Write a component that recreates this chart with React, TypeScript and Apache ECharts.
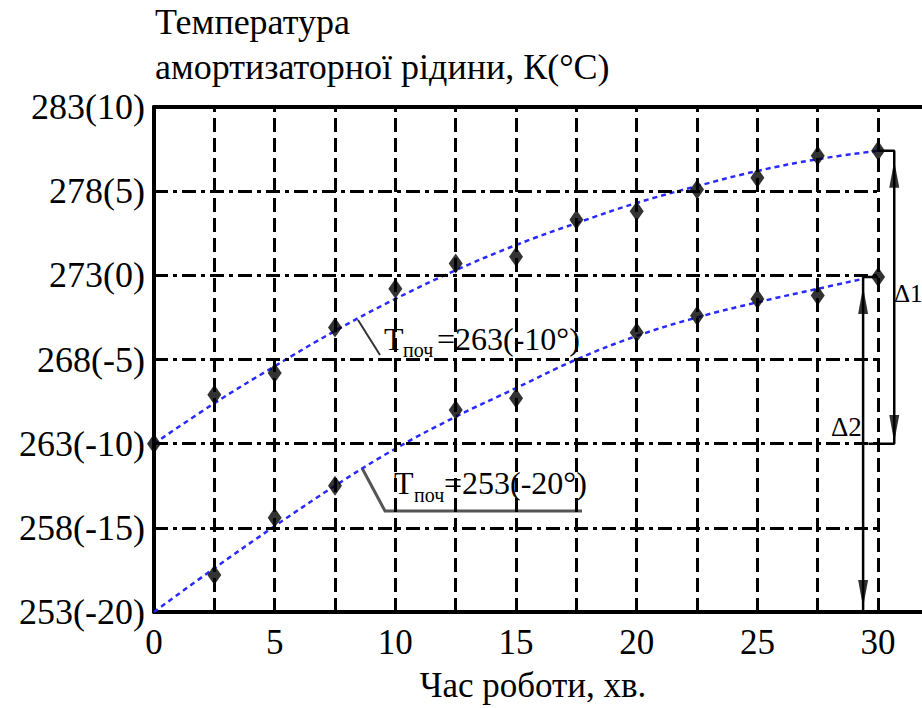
import React, { useEffect, useRef } from "react";
import * as echarts from "echarts";

// ---- data (Kelvin) ----
const xTicks = [0, 5, 10, 15, 20, 25, 30];
const yTicksK = [253, 258, 263, 268, 273, 278, 283];
const gridX = [2.5, 5, 7.5, 10, 12.5, 15, 17.5, 20, 22.5, 25, 27.5, 30];
const gridY = [258, 263, 268, 273, 278];

const upperPointsX = [0, 2.5, 5, 7.5, 10, 12.5, 15, 17.5, 20, 22.5, 25, 27.5, 30];
const upperPointsY = [263.0, 265.9, 267.2, 269.9, 272.2, 273.7, 274.1, 276.3, 276.8, 278.1, 278.8, 280.1, 280.4];
const lowerPointsX = [2.5, 5, 7.5, 12.5, 15, 20, 22.5, 25, 27.5, 30];
const lowerPointsY = [255.2, 258.6, 260.5, 265.0, 265.7, 269.6, 270.6, 271.6, 271.8, 272.9];

const upperCurveX = [0, 2.5, 5, 7.5, 10, 12.5, 15, 17.5, 20, 22.5, 25, 27.5, 30];
const upperCurveY = [263.0, 265.4, 267.6, 269.7, 271.6, 273.3, 274.8, 276.1, 277.3, 278.3, 279.2, 279.9, 280.4];
const lowerCurveX = [0, 2.5, 5, 7.5, 10, 12.5, 15, 17.5, 20, 22.5, 25, 27.5, 29.4];
const lowerCurveY = [253.0, 255.6, 258.1, 260.5, 262.7, 264.6, 266.3, 268.0, 269.4, 270.5, 271.4, 272.2, 272.8];

const titleLines = ["Температура", "амортизаторної рідини, К(°С)"];
const xName = "Час роботи, хв.";

const X_MAX = 31.82;
const K0 = 273;
const FONT = "Liberation Serif";

const toC = (xs: number[], ys: number[]) => xs.map((x, i) => [x, +(ys[i] - K0).toFixed(2)]);

export default function App() {
  const ref = useRef<HTMLDivElement>(null);
  useEffect(() => {
    if (!ref.current) return;
    const chart = echarts.init(ref.current, null, { renderer: "svg" });
    const black = "#000";
    const blue = "#2a2aff";
    const txt = (text: string, x: number, y: number, size: number, extra: any = {}) => ({
      type: "text",
      x,
      y,
      style: { text, fontSize: size, fontFamily: FONT, fill: black, verticalAlign: "middle", ...extra },
    });

    const option: any = {
      animation: false,
      backgroundColor: "#fff",
      textStyle: { fontFamily: FONT },
      grid: { left: 154, right: 0, top: 107, bottom: 96 },
      xAxis: [
        {
          type: "value",
          min: 0,
          max: X_MAX,
          interval: 5,
          axisLine: { onZero: false, lineStyle: { color: black, width: 4 } },
          axisTick: { show: false },
          splitLine: { show: false },
          axisLabel: {
            showMaxLabel: false,
            formatter: (v: number) => (xTicks.includes(v) ? String(v) : ""),
            color: black,
            fontSize: 35,
            fontFamily: FONT,
            margin: 13,
          },
        },
        {
          type: "value",
          position: "top",
          min: 0,
          max: X_MAX,
          axisLine: { show: true, onZero: false, lineStyle: { color: black, width: 4 } },
          axisTick: { show: false },
          axisLabel: { show: false },
          splitLine: { show: false },
        },
      ],
      yAxis: {
        type: "value",
        min: yTicksK[0] - K0,
        max: yTicksK[yTicksK.length - 1] - K0,
        interval: 5,
        axisLine: { show: true, onZero: false, lineStyle: { color: black, width: 4 } },
        axisTick: { show: false },
        splitLine: { show: false },
        axisLabel: {
          formatter: (v: number) => `${v + K0}(${v})`,
          color: black,
          fontSize: 36,
          fontFamily: FONT,
          margin: 9,
        },
      },
      series: [
        {
          type: "line",
          data: [],
          silent: true,
          z: 1,
          markLine: {
            silent: true,
            symbol: ["none", "none"],
            label: { show: false },
            lineStyle: { color: black, width: 3, type: [14, 6] },
            emphasis: { disabled: true },
            data: gridX.map((x) => ({ xAxis: x })),
          },
        },
        {
          type: "line",
          data: [],
          silent: true,
          z: 1,
          markLine: {
            silent: true,
            symbol: ["none", "none"],
            label: { show: false },
            lineStyle: { color: black, width: 3, type: [14, 5, 4, 5] },
            emphasis: { disabled: true },
            data: gridY.map((y) => [{ coord: [0, y - K0] }, { coord: [30, y - K0] }]),
          },
        },
        {
          type: "line",
          data: toC(upperCurveX, upperCurveY),
          smooth: 0.4,
          showSymbol: false,
          z: 3,
          lineStyle: { color: blue, width: 2.5, type: [5, 4] },
        },
        {
          type: "line",
          data: toC(lowerCurveX, lowerCurveY),
          smooth: 0.4,
          showSymbol: false,
          z: 3,
          lineStyle: { color: blue, width: 2.5, type: [5, 4] },
        },
        {
          type: "scatter",
          data: toC(upperPointsX, upperPointsY),
          symbol: "diamond",
          symbolSize: [14, 20],
          itemStyle: { color: black },
          z: 4,
        },
        {
          type: "scatter",
          data: toC(lowerPointsX, lowerPointsY),
          symbol: "diamond",
          symbolSize: [14, 20],
          itemStyle: { color: black },
          z: 4,
        },
        {
          type: "line",
          data: [
            [30, 280.4 - K0],
            [30.67, 280.4 - K0],
            [30.67, 263 - K0],
            [29.6, 263 - K0],
          ],
          showSymbol: false,
          lineStyle: { color: black, width: 2.5 },
          z: 5,
        },
        {
          type: "line",
          data: [
            [30, 272.9 - K0],
            [29.38, 272.9 - K0],
            [29.38, 253 - K0],
          ],
          showSymbol: false,
          lineStyle: { color: black, width: 2.5 },
          z: 5,
        },
        {
          type: "scatter",
          data: [
            [30.67, 279.0 - K0],
            [29.38, 271.5 - K0],
          ],
          symbol: "triangle",
          symbolSize: [10, 27],
          itemStyle: { color: black },
          z: 6,
        },
        {
          type: "scatter",
          data: [
            [30.67, 263.9 - K0],
            [29.38, 254.1 - K0],
          ],
          symbol: "triangle",
          symbolRotate: 180,
          symbolSize: [10, 27],
          itemStyle: { color: black },
          z: 6,
        },
      ],
      graphic: [
        txt(titleLines[0], 155, 22, 36),
        txt(titleLines[1], 155, 67, 36),
        txt(xName, 533, 685, 35, { align: "center" }),
        { type: "polyline", shape: { points: [[358, 320], [380, 355]] }, style: { stroke: "#333", lineWidth: 2, fill: "none" } },
        txt("T", 384, 339, 32),
        txt("поч", 403, 350, 20),
        txt("=263(-10°)", 437, 339, 32),
        { type: "polyline", shape: { points: [[362, 468], [385, 511], [582, 511]] }, style: { stroke: "#555", lineWidth: 3, fill: "none" } },
        txt("T", 394, 483, 32),
        txt("поч", 414, 495, 20),
        txt("=253(-20°)", 444, 483, 32),
        txt("Δ1", 894, 293, 25),
        txt("Δ2", 831, 427, 27),
      ],
    };
    chart.setOption(option);
    return () => chart.dispose();
  }, []);
  return <div ref={ref} style={{ width: 922, height: 708, position: "absolute", left: 0, top: 0 }} />;
}
